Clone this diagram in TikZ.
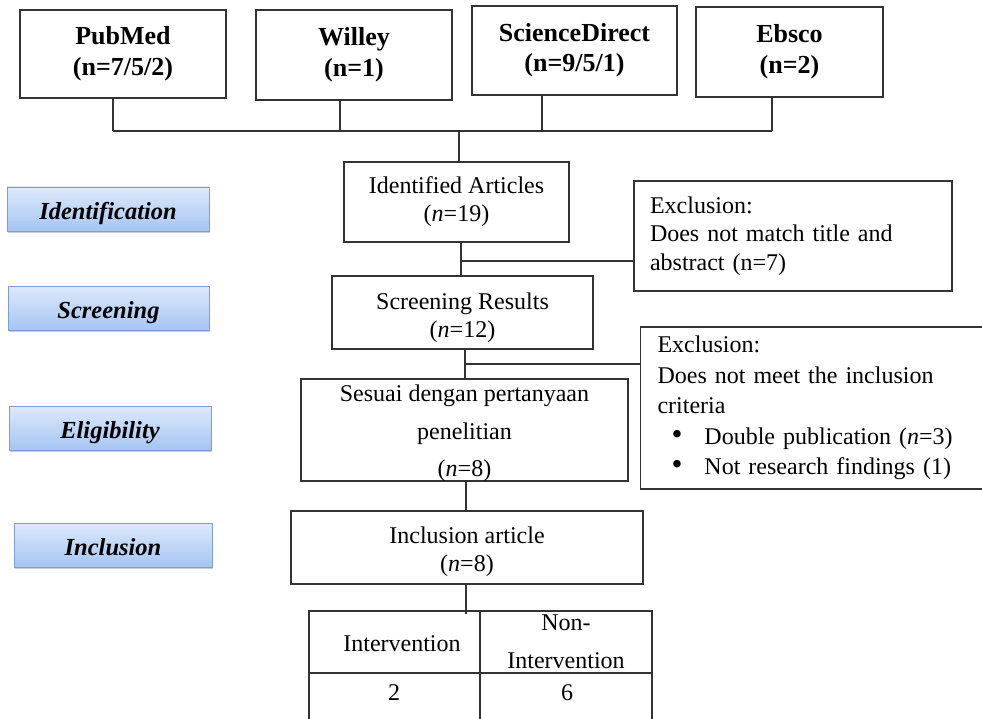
\documentclass[tikz,border=0pt]{standalone}
\usepackage{fontspec}
\setmainfont{Liberation Serif}
\usetikzlibrary{shadows}
\definecolor{labtop}{HTML}{DDE9FC}
\definecolor{labbot}{HTML}{A6C5F2}
\definecolor{labborder}{HTML}{7B9FD4}
\definecolor{ln}{HTML}{333333}
\newcommand\upstrut[1]{\rule{0pt}{#1}}
\newcommand\bigbul{\scalebox{1.3}{\textbullet}}
\begin{document}
\begin{tikzpicture}[x=1pt,y=-1pt,
  box/.style={draw=ln, line width=1.1pt, inner sep=0pt, align=center},
  topbox/.style={box, font=\fontsize{26}{30.5}\selectfont\bfseries},
  midbox/.style={box, font=\fontsize{24}{28}\selectfont},
  exbox/.style={draw=ln, line width=1.1pt, inner ysep=0pt, align=left, font=\fontsize{24}{28.5}\selectfont},
  lab/.style={draw=labborder, line width=0.9pt, top color=labtop, bottom color=labbot,
    drop shadow={shadow xshift=1.2pt, shadow yshift=-2.4pt, opacity=.4},
    minimum height=44, inner sep=0pt, text height=21pt, text depth=0pt,
    font=\fontsize{24.5}{28}\selectfont\bfseries\itshape},
  conn/.style={draw=ln, line width=1.1pt},
  cell/.style={inner sep=0pt, align=center, font=\fontsize{24}{38}\selectfont}
]
\useasboundingbox (0,0) rectangle (982,719);

% top database boxes
\node[topbox, minimum width=206, minimum height=88] (pub) at (123,54) {PubMed\\(n=7/5/2)};
\node[topbox, minimum width=196, minimum height=90] (wil) at (354,55) {Willey\\(n=1)};
\node[topbox, minimum width=205, minimum height=89] (sci) at (574.5,50.5) {ScienceDirect\\(n=9/5/1)};
\node[topbox, minimum width=187, minimum height=90] (ebs) at (789.5,52) {Ebsco\\(n=2)};

% stage labels
\node[lab, minimum width=202] (lid) at (108,209) {Identification};
\node[lab, minimum width=201] (lsc) at (108.5,308) {Screening};
\node[lab, minimum width=202] (lel) at (110,428) {Eligibility};
\node[lab, minimum width=198] (lin) at (113,545) {Inclusion};

% flow boxes
\node[midbox, minimum width=225, minimum height=80] (ident) at (456.5,202) {Identified Articles\\(\textit{n}=19)};
\node[midbox, minimum width=261, minimum height=73] (scr) at (462.5,312.5) {\upstrut{27pt}Screening Results\\(\textit{n}=12)};
\node[midbox, minimum width=327, minimum height=102] (ses) at (464.5,430) {};
\node[cell, font=\fontsize{24}{37.5}\selectfont] (sest) at (464.5,433.5) {Sesuai dengan pertanyaan\\penelitian\\(\textit{n}=8)};
\node[midbox, minimum width=352, minimum height=73] (inc) at (467,547.5) {\upstrut{25pt}Inclusion article\\(\textit{n}=8)};

% exclusion boxes
\node[exbox, inner xsep=16pt, text width=286, minimum height=110] (ex1) at (793,236)
  {Exclusion:\\Does not match title and\\abstract (n=7)};
\node[exbox, anchor=west, inner xsep=17pt, text width=336, minimum height=162,
  font=\fontsize{24}{30.5}\selectfont] (ex2) at (640,408)
  {Exclusion:\\Does not meet the inclusion\\criteria\\
   \hspace*{14pt}\bigbul\hspace*{22pt}Double publication (\textit{n}=3)\\
   \hspace*{14pt}\bigbul\hspace*{22pt}Not research findings (1)};

% table
\node[draw=ln, line width=1.1pt, minimum width=343, minimum height=119, inner sep=0pt] (tbl) at (480.5,670.5) {};
\coordinate (div) at (480,673);
\draw[conn] (div |- tbl.north) -- (div |- tbl.south);
\draw[conn] (div -| tbl.west) -- (div -| tbl.east);
\node[cell] (c11) at (402,644) {Intervention};
\node[cell] (c12) at (566,642) {Non-\\Intervention};
\node[cell] (c21) at (394,693) {2};
\node[cell] (c22) at (567,693) {6};

% connectors: databases to bus
\coordinate (b1) at (113,131);
\coordinate (b2) at (340,131);
\coordinate (b3) at (542,131);
\coordinate (b4) at (772,131);
\coordinate (b0) at (459,131);
\draw[conn] (pub.south -| b1) -- (b1);
\draw[conn] (wil.south -| b2) -- (b2);
\draw[conn] (sci.south -| b3) -- (b3);
\draw[conn] (ebs.south -| b4) -- (b4);
\draw[conn] (b1) -- (b4);
\draw[conn] (b0) -- (b0 |- ident.north);

% flow connectors
\coordinate (j1) at (461,261);
\draw[conn] (j1 |- ident.south) -- (j1 |- scr.north);
\draw[conn] (j1) -- (j1 -| ex1.west);
\coordinate (j2) at (465,364);
\draw[conn] (j2 |- scr.south) -- (j2 |- ses.north);
\draw[conn] (j2) -- (j2 -| ex2.west);
\coordinate (j3) at (466,600);
\draw[conn] (j3 |- ses.south) -- (j3 |- inc.north);
\draw[conn] (j3 |- inc.south) -- ([yshift=-4pt]j3 |- tbl.north);
\end{tikzpicture}
\end{document}
